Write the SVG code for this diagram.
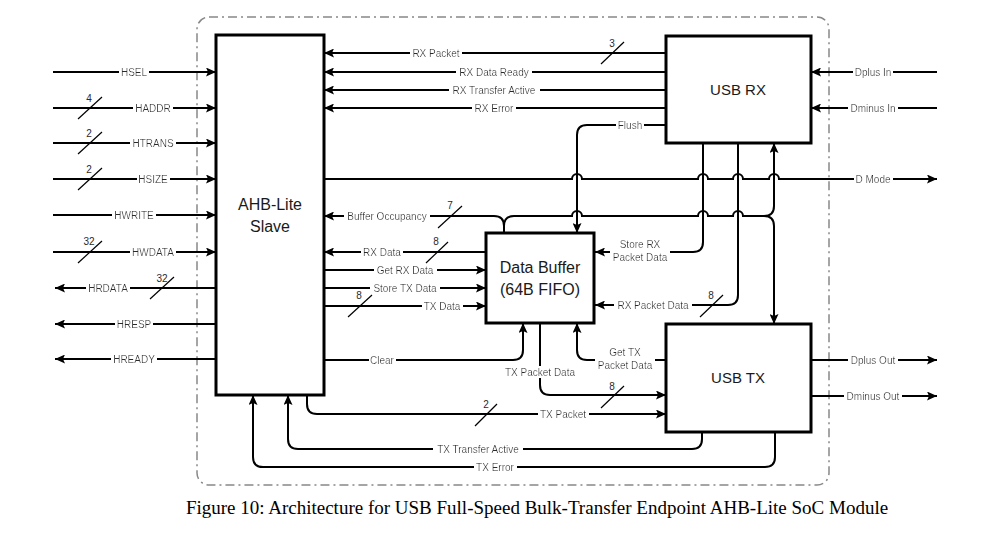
<svg xmlns="http://www.w3.org/2000/svg" width="996" height="533" viewBox="0 0 996 533">
<style>
.w{fill:none;stroke:#000;stroke-width:2}
.a{marker-end:url(#ah)}
.box{fill:#fff;stroke:#000;stroke-width:3}
.bt{font-family:"Liberation Sans",Arial,sans-serif;font-size:16px;fill:#1a1a1a;text-anchor:middle}
.l{font-family:"Liberation Sans",Arial,sans-serif;font-size:10px;fill:#2a2a2a;text-anchor:middle;filter:url(#bg)}
.n{font-family:"Liberation Sans",Arial,sans-serif;font-size:10px;fill:#2a2a2a;text-anchor:middle}
.s{stroke:#000;stroke-width:1.2}
.cap{font-family:"Liberation Serif","Times New Roman",serif;font-size:19px;fill:#000;text-anchor:middle}
</style>
<defs>
<marker id="ah" markerUnits="userSpaceOnUse" markerWidth="11" markerHeight="9" refX="10" refY="4.5" orient="auto">
<path d="M0,0 L10,4.5 L0,9 L2,4.5 z" fill="#000"/>
</marker>
<filter id="bg" x="-0.04" y="0" width="1.08" height="1">
<feFlood flood-color="#fff" result="f"/>
<feMerge><feMergeNode in="f"/><feMergeNode in="SourceGraphic"/></feMerge>
</filter>
</defs>
<rect width="996" height="533" fill="#fff"/>
<rect id="module-boundary" x="197" y="17" width="632" height="468" rx="12" fill="none" stroke="#888" stroke-width="1.5" stroke-dasharray="9 4 2 4"/>

<g id="connectors">
<path class="w a" d="M53,72 H216"/>
<path class="w a" d="M53,108 H216"/>
<path class="w a" d="M53,143 H216"/>
<path class="w a" d="M53,179 H216"/>
<path class="w a" d="M53,215 H216"/>
<path class="w a" d="M53,252 H216"/>
<path class="w a" d="M216,288 H55"/>
<path class="w a" d="M216,324 H55"/>
<path class="w a" d="M216,359 H55"/>
<path class="w a" d="M666,53 H324"/>
<path class="w a" d="M666,72 H324"/>
<path class="w a" d="M666,90 H324"/>
<path class="w a" d="M666,108 H324"/>
<path class="w a" d="M666,125 H587 Q577,125 577,135 V233"/>
<path class="w a" d="M324,179 H572 a5,5 0 0 1 10,0 H698 a5,5 0 0 1 10,0 H733 a5,5 0 0 1 10,0 H769 a5,5 0 0 1 10,0 H937"/>
<path class="w a" d="M504,233 V226 Q504,216 494,216 H324"/>
<path class="w a" d="M504,226 Q504,216 514,216 H572 a5,5 0 0 1 10,0 H698 a5,5 0 0 1 10,0 H733 a5,5 0 0 1 10,0 H764 Q774,216 774,226 V324"/>
<path class="w a" d="M764,216 Q774,216 774,206 V143"/>
<path class="w a" d="M703,143 V242 Q703,252 693,252 H595"/>
<path class="w a" d="M738,143 V295 Q738,305 728,305 H595"/>
<path class="w a" d="M486,252 H324"/>
<path class="w a" d="M324,270 H486"/>
<path class="w a" d="M324,288 H486"/>
<path class="w a" d="M324,306 H486"/>
<path class="w a" d="M324,360 H513 Q523,360 523,350 V323"/>
<path class="w a" d="M666,360 H587 Q577,360 577,350 V323"/>
<path class="w a" d="M540,323 V385 Q540,395 550,395 H666"/>
<path class="w a" d="M307,395 V404 Q307,414 317,414 H666"/>
<path class="w a" d="M702,432 V439 Q702,449 692,449 H298 Q288,449 288,439 V395"/>
<path class="w a" d="M775,432 V457 Q775,467 765,467 H263 Q253,467 253,457 V395"/>
<path class="w a" d="M937,72 H811"/>
<path class="w a" d="M937,108 H811"/>
<path class="w a" d="M811,360 H937"/>
<path class="w a" d="M811,396 H937"/>

<g class="s">
<line x1="78" y1="119" x2="102" y2="97"/>
<line x1="78" y1="154" x2="102" y2="132"/>
<line x1="78" y1="190" x2="102" y2="168"/>
<line x1="78" y1="263" x2="102" y2="241"/>
<line x1="150" y1="299" x2="174" y2="277"/>
<line x1="601" y1="64" x2="624" y2="42"/>
<line x1="438" y1="228" x2="462" y2="206"/>
<line x1="426" y1="263" x2="448" y2="242"/>
<line x1="348" y1="317" x2="372" y2="295"/>
<line x1="700" y1="317" x2="723" y2="295"/>
<line x1="601" y1="408" x2="624" y2="386"/>
<line x1="475" y1="426" x2="497" y2="404"/>
</g>
<text class="n" x="89" y="102">4</text>
<text class="n" x="89" y="137">2</text>
<text class="n" x="89" y="173">2</text>
<text class="n" x="89" y="245">32</text>
<text class="n" x="162" y="282">32</text>
<text class="n" x="612" y="47">3</text>
<text class="n" x="450" y="209">7</text>
<text class="n" x="436" y="245">8</text>
<text class="n" x="359" y="299">8</text>
<text class="n" x="711" y="299">8</text>
<text class="n" x="612" y="390">8</text>
<text class="n" x="486" y="408">2</text>

<text class="l" x="134" y="75.5">HSEL</text>
<text class="l" x="153" y="111.5">HADDR</text>
<text class="l" x="153" y="146.5">HTRANS</text>
<text class="l" x="153" y="182.5">HSIZE</text>
<text class="l" x="134" y="218.5">HWRITE</text>
<text class="l" x="153" y="255.5">HWDATA</text>
<text class="l" x="108" y="291.5">HRDATA</text>
<text class="l" x="134" y="327.5">HRESP</text>
<text class="l" x="134" y="362.5">HREADY</text>
<text class="l" x="436" y="56.5">RX Packet</text>
<text class="l" x="494" y="75.5">RX Data Ready</text>
<text class="l" x="494" y="93.5">RX Transfer Active</text>
<text class="l" x="494" y="111.5">RX Error</text>
<text class="l" x="630" y="128.5">Flush</text>
<text class="l" x="873" y="182.5">D Mode</text>
<text class="l" x="387" y="219.5">Buffer Occupancy</text>
<text class="l" x="640" y="248">Store RX<tspan x="640" dy="13">Packet Data</tspan></text>
<text class="l" x="653" y="308.5">RX Packet Data</text>
<text class="l" x="382" y="255.5">RX Data</text>
<text class="l" x="405" y="273.5">Get RX Data</text>
<text class="l" x="405" y="291.5">Store TX Data</text>
<text class="l" x="442" y="309.5">TX Data</text>
<text class="l" x="382" y="363.5">Clear</text>
<text class="l" x="625" y="356">Get TX<tspan x="625" dy="13">Packet Data</tspan></text>
<text class="l" x="540" y="375.5">TX Packet Data</text>
<text class="l" x="563" y="417.5">TX Packet</text>
<text class="l" x="478" y="452.5">TX Transfer Active</text>
<text class="l" x="495" y="470.5">TX Error</text>
<text class="l" x="873" y="75.5">Dplus In</text>
<text class="l" x="873" y="111.5">Dminus In</text>
<text class="l" x="873" y="363.5">Dplus Out</text>
<text class="l" x="873" y="399.5">Dminus Out</text>
</g>

<g id="ahb-lite-slave">
<rect class="box" x="216" y="35" width="108" height="360"/>
<text class="bt" x="270" y="210">AHB-Lite</text>
<text class="bt" x="270" y="232">Slave</text>
</g>
<g id="usb-rx">
<rect class="box" x="666" y="36" width="145" height="107"/>
<text class="bt" x="738" y="95" style="font-size:15px">USB RX</text>
</g>
<g id="data-buffer">
<rect class="box" x="486" y="233" width="108" height="90"/>
<text class="bt" x="540" y="273">Data Buffer</text>
<text class="bt" x="540" y="295">(64B FIFO)</text>
</g>
<g id="usb-tx">
<rect class="box" x="666" y="324" width="145" height="108"/>
<text class="bt" x="738" y="383" style="font-size:15px">USB TX</text>
</g>

<text class="cap" x="537" y="514">Figure 10: Architecture for USB Full-Speed Bulk-Transfer Endpoint AHB-Lite SoC Module</text>
</svg>
